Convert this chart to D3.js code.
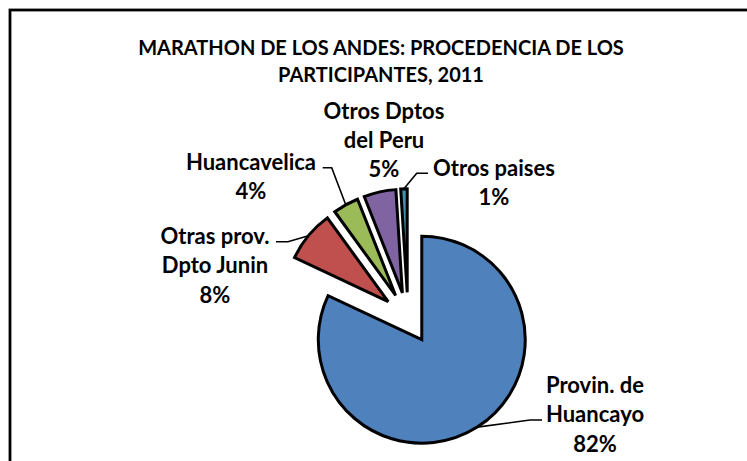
<!DOCTYPE html>
<html>
<head>
<meta charset="utf-8">
<script src="https://cdn.jsdelivr.net/npm/d3@7"></script>
<style>
  body { margin: 0; background: #fff; }
  svg { display: block; font-family: Lato, "Open Sans", sans-serif; font-weight: bold; }
</style>
</head>
<body>
<svg id="chart" width="747" height="461"></svg>
<script>
// datos del grafico
var categorias = ["Provin. de Huancayo", "Otras prov. Dpto Junin", "Huancavelica", "Otros Dptos del Peru", "Otros paises"];
var porcentajes = [82, 8, 4, 5, 1];
var colores = ["#4F81BD", "#C0504D", "#9BBB59", "#8064A2", "#3D93AB"];
// etiquetas en varias lineas
var etiquetas = [
  ["Provin. de", "Huancayo", "82%"],
  ["Otras prov.", "Dpto Junin", "8%"],
  ["Huancavelica", "4%"],
  ["Otros Dptos", "del Peru", "5%"],
  ["Otros paises", "1%"]
];
var titulo = ["MARATHON DE LOS ANDES: PROCEDENCIA DE LOS", "PARTICIPANTES, 2011"];

var svg = d3.select("#chart");

// borde del area del grafico
svg.append("rect")
  .attr("x", 10).attr("y", 10)
  .attr("width", 760).attr("height", 480)
  .attr("fill", "#fff")
  .attr("stroke", "#000")
  .attr("stroke-width", 2.8);

svg.selectAll("text.titulo")
  .data(titulo)
  .enter()
  .append("text")
  .attr("class", "titulo")
  .attr("x", 381)
  .attr("y", function(d, i) { return 55 + i * 27; })
  .attr("text-anchor", "middle")
  .attr("font-size", 20)
  .text(function(d) { return d; });

var cx = 408, cy = 318;
var radio = 103.5;
var explosion = 25.7;

var datos = porcentajes.map(function(v, i) {
  return { nombre: categorias[i], valor: v, color: colores[i], etiqueta: etiquetas[i] };
});

var pie = d3.pie().sort(null).value(function(d) { return d.valor; });
var arco = d3.arc().innerRadius(0).outerRadius(radio);
var arcos = pie(datos);

function desplazamiento(d, dist) {
  var a = (d.startAngle + d.endAngle) / 2;
  return [Math.sin(a) * dist, -Math.cos(a) * dist];
}

var g = svg.append("g").attr("transform", "translate(" + cx + "," + cy + ")");

g.selectAll("path.slice")
  .data(arcos)
  .enter()
  .append("path")
  .attr("class", "slice")
  .attr("d", arco)
  .attr("transform", function(d) {
    var o = desplazamiento(d, explosion);
    return "translate(" + o[0] + "," + o[1] + ")";
  })
  .attr("fill", function(d) { return d.data.color; })
  .attr("stroke", "#000")
  .attr("stroke-width", 3)
  .attr("stroke-linejoin", "miter");

// posicion de etiquetas (centro x, linea base de la primera linea)
var posEtiq = [[595, 393], [215, 244], [251, 170], [384, 118.5], [494, 176]];
var interlinea = 29.3;
// lineas guia: codo y final, null = sin linea
var guias = [
  [[530, 420], [542, 420]],
  [[288, 241.7], [276, 241.7]],
  [[331.7, 167.7], [322.7, 167.7]],
  null,
  [[416.7, 173.3], [428, 173.3]]
];

arcos.forEach(function(d, i) {
  if (!guias[i]) return;
  var o = desplazamiento(d, explosion + radio);
  var p = d3.path();
  p.moveTo(cx + o[0], cy + o[1]);
  p.lineTo(guias[i][0][0], guias[i][0][1]);
  p.lineTo(guias[i][1][0], guias[i][1][1]);
  svg.append("path")
    .attr("d", p.toString())
    .attr("fill", "none")
    .attr("stroke", "#000")
    .attr("stroke-width", 1.6);
});

arcos.forEach(function(d, i) {
  var t = svg.append("text")
    .attr("text-anchor", "middle")
    .attr("font-size", 22);
  d.data.etiqueta.forEach(function(linea, j) {
    t.append("tspan")
      .attr("x", posEtiq[i][0])
      .attr("y", posEtiq[i][1] + j * interlinea)
      .text(linea);
  });
});
</script>
</body>
</html>
